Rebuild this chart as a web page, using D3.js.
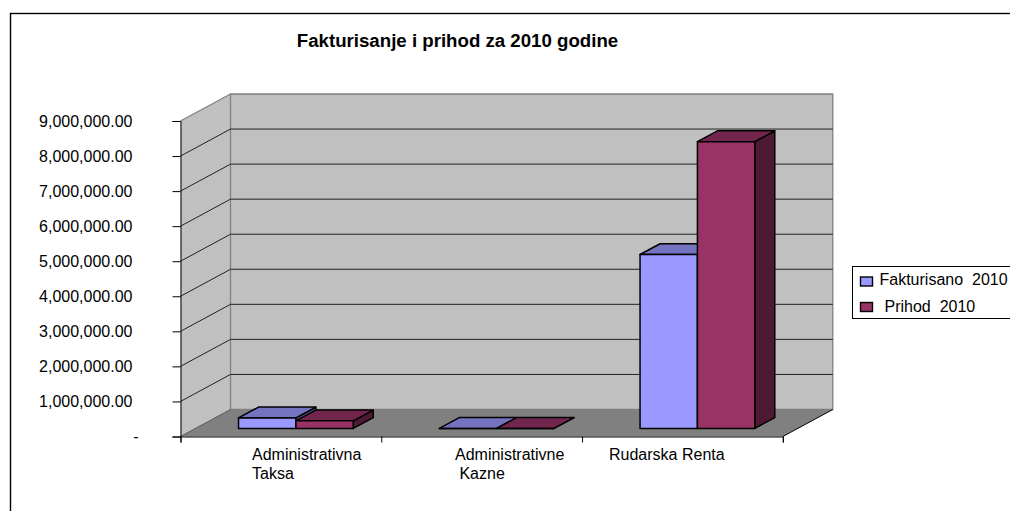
<!DOCTYPE html>
<html><head><meta charset="utf-8">
<script src="https://cdnjs.cloudflare.com/ajax/libs/d3/7.8.5/d3.min.js"></script>
<style>html,body{margin:0;padding:0;background:#fff}svg{display:block}text{font-family:"Liberation Sans",Arial,sans-serif;font-size:16px;fill:#000}</style>
</head><body><svg id="c" width="1010" height="511"></svg>
<script>
const categories = [["Administrativna","Taksa"],["Administrativne"," Kazne"],["Rudarska Renta"]];
const seriesNames = ["Fakturisano  2010","Prihod  2010"];
const fakturisano = [300000,0,4960000];
const prihod = [215000,0,8180000];
const yTicks = [0,1e6,2e6,3e6,4e6,5e6,6e6,7e6,8e6,9e6];
const seriesValues = [fakturisano,prihod];
const colors = [{front:"#9999ff",top:"#7373bf",side:"#4d4d80"},{front:"#993366",top:"#73264d",side:"#4d1933"}];

const svg = d3.select("#c");
svg.append("rect").attr("x",10.5).attr("y",13.5).attr("width",1010).attr("height",510).attr("fill","#fff").attr("stroke","#000").attr("stroke-width",1.4);

const x0=180.5,x1=782.8,yB=436.5,yT=121,dx=50,dy=-27;
const y=d3.scaleLinear().domain([0,9e6]).range([yB,yT]);
const x=d3.scaleBand().domain(d3.range(categories.length)).range([x0,x1]);
const xs=d3.scaleBand().domain(d3.range(seriesNames.length)).range([0,x.bandwidth()]).paddingOuter(0.75).paddingInner(0);
const pts=a=>a.map(p=>p.join(",")).join(" ");
const d3Pt=(px,py,d)=>[px+dx*d,py+dy*d];

// walls
svg.append("polygon").attr("points",pts([[x0,yT],[x0+dx,yT+dy],[x0+dx,yB+dy],[x0,yB]])).attr("fill","#c0c0c0").attr("stroke","none");
svg.append("polygon").attr("points",pts([[x0+dx,yT+dy],[x1+dx,yT+dy],[x1+dx,yB+dy],[x0+dx,yB+dy]])).attr("fill","#c0c0c0").attr("stroke","#808080").attr("stroke-width",1.3);
svg.append("polygon").attr("points",pts([[x0,yB],[x1,yB],[x1+dx,yB+dy],[x0+dx,yB+dy]])).attr("fill","#808080").attr("stroke","none");
svg.append("line").attr("x1",x0).attr("y1",yT).attr("x2",x0+dx).attr("y2",yT+dy).attr("stroke","#808080").attr("stroke-width",1.3);

// gridlines
const grid=svg.append("g");
yTicks.slice(1,-1).forEach(t=>{
  grid.append("polyline").attr("points",pts([[x0,y(t)],[x0+dx,y(t)+dy],[x1+dx,y(t)+dy]])).attr("fill","none").attr("stroke","#222").attr("stroke-width",1);
});
// front axis lines
svg.append("line").attr("x1",x1).attr("y1",yB).attr("x2",x1+dx).attr("y2",yB+dy).attr("stroke","#000");
svg.append("line").attr("x1",x0).attr("y1",yB).attr("x2",x0+dx).attr("y2",yB+dy).attr("stroke","#555");

// bars
const barD0=0.3,barD1=0.7;
categories.forEach((c,i)=>{
  seriesValues.forEach((vals,s)=>{
    const bl=x(i)+xs(s), w=xs.bandwidth();
    const yBase=y(0), yTop=y(vals[i]);
    const A=(px,py,d)=>d3Pt(px,py,d);
    const g=svg.append("g").attr("stroke","#000").attr("stroke-width",1.5).attr("stroke-linejoin","round");
    g.append("polygon").attr("fill",colors[s].side).attr("points",pts([A(bl+w,yTop,barD0),A(bl+w,yTop,barD1),A(bl+w,yBase,barD1),A(bl+w,yBase,barD0)]));
    g.append("polygon").attr("fill",colors[s].top).attr("points",pts([A(bl,yTop,barD0),A(bl,yTop,barD1),A(bl+w,yTop,barD1),A(bl+w,yTop,barD0)]));
    g.append("polygon").attr("fill",colors[s].front).attr("points",pts([A(bl,yTop,barD0),A(bl+w,yTop,barD0),A(bl+w,yBase,barD0),A(bl,yBase,barD0)]));
  });
});

// axes
const fmt=d=>d===0?"-":d3.format(",.2f")(d);
const ya=svg.append("g").attr("transform",`translate(${x0},0)`).call(d3.axisLeft(y).tickValues(yTicks).tickFormat(fmt).tickSize(8));
ya.attr("font-family",null).attr("font-size",null);
ya.selectAll("path,line").attr("stroke","#000");
ya.selectAll("text").attr("x",-48).attr("text-anchor","end");
ya.selectAll("g.tick").filter(d=>d===0).select("text").attr("x",-42);
const xa=svg.append("g").attr("transform",`translate(0,${yB})`).call(d3.axisBottom(d3.scaleLinear().domain([0,3]).range([x0,x1])).tickValues([0,1,2,3]).tickFormat("").tickSize(6));
xa.attr("font-family",null).selectAll("path,line").attr("stroke","#000");

// category labels
const labelX=[252,455,609];
categories.forEach((c,i)=>{
  const t=svg.append("text").style("white-space","pre");
  c.forEach((l,k)=>t.append("tspan").attr("x",labelX[i]).attr("y",460+k*18.5).text(l));
});

// title
svg.append("text").attr("x",457.5).attr("y",47).attr("text-anchor","middle").style("font-weight","bold").style("font-size","18.67px").text("Fakturisanje i prihod za 2010 godine");

// legend
svg.append("rect").attr("x",852.5).attr("y",266.5).attr("width",170).attr("height",52).attr("fill","#fff").attr("stroke","#000").attr("stroke-width",1);
seriesNames.forEach((n,i)=>{
  const ly=[276.5,302][i];
  svg.append("rect").attr("x",860.5).attr("y",ly+.5).attr("width",12).attr("height",9).attr("fill",colors[i].front).attr("stroke","#000").attr("stroke-width",1.4);
  svg.append("text").attr("x",[879.5,884.5][i]).attr("y",[285,311.5][i]).style("white-space","pre").text(n);
});
</script></body></html>
